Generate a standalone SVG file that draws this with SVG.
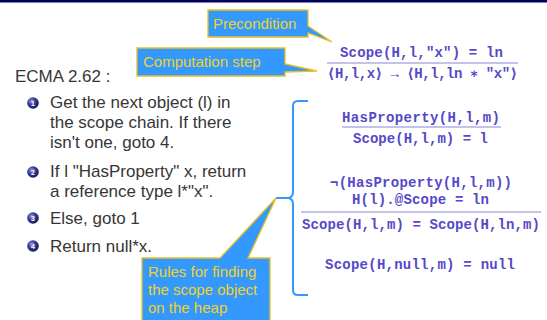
<svg xmlns="http://www.w3.org/2000/svg" width="547" height="320" viewBox="0 0 547 320">
<defs>
<radialGradient id="ball" cx="0.38" cy="0.35" r="0.7">
<stop offset="0" stop-color="#a0a0e0"/>
<stop offset="0.45" stop-color="#3a3a9a"/>
<stop offset="1" stop-color="#141450"/>
</radialGradient>
<style>
.body{font-family:"Liberation Sans","DejaVu Sans",sans-serif;font-size:17px;fill:#363636}
.num{font-family:"Liberation Sans",sans-serif;font-size:7px;fill:#ffffff;text-anchor:middle;font-weight:bold}
.math{font-family:"Liberation Mono","DejaVu Sans Mono",monospace;font-size:14px;font-weight:bold;fill:#5549c8;text-anchor:middle}
.frac{stroke:#8a86dc;stroke-width:1.2}
.call{fill:#3399ff;stroke:#e8c020;stroke-width:1.3}
.ctext{font-family:"Liberation Sans","DejaVu Sans",sans-serif;font-size:15px;fill:#f2d21a}
.brace{fill:none;stroke:#3399ff;stroke-width:2}
</style>
</defs>
<rect x="0" y="0" width="547" height="320" fill="#ffffff"/>
<rect x="0" y="0" width="547" height="2.5" fill="#00005e"/>

<g id="title">
<text class="body" x="15" y="82">ECMA 2.62 :</text>
</g>

<g id="step1">
<circle cx="33" cy="103" r="5.8" fill="url(#ball)"/>
<text class="num" x="33" y="105.5">1</text>
<text class="body" x="50" y="108">Get the next object (l) in</text>
<text class="body" x="50" y="128">the scope chain. If there</text>
<text class="body" x="50" y="148">isn't one, goto 4.</text>
</g>
<g id="step2">
<circle cx="33" cy="172" r="5.8" fill="url(#ball)"/>
<text class="num" x="33" y="174.5">2</text>
<text class="body" x="50" y="177">If l "HasProperty" x, return</text>
<text class="body" x="50" y="197">a reference type l*"x".</text>
</g>
<g id="step3">
<circle cx="33" cy="218" r="5.8" fill="url(#ball)"/>
<text class="num" x="33" y="220.5">3</text>
<text class="body" x="50" y="224">Else, goto 1</text>
</g>
<g id="step4">
<circle cx="33" cy="246" r="5.8" fill="url(#ball)"/>
<text class="num" x="33" y="248.5">4</text>
<text class="body" x="50" y="252">Return null*x.</text>
</g>

<g id="computation-rule">
<text class="math" x="421.5" y="57" textLength="163" lengthAdjust="spacing">Scope(H,l,"x") = ln</text>
<line class="frac" x1="327" y1="63" x2="518" y2="63"/>
<text class="math" x="422.5" y="78" textLength="191" lengthAdjust="spacing">⟨H,l,x⟩ → ⟨H,l,ln ∗ "x"⟩</text>
</g>

<g id="scope-rule-1">
<text class="math" x="421" y="122" textLength="158" lengthAdjust="spacing">HasProperty(H,l,m)</text>
<line class="frac" x1="342" y1="127" x2="501" y2="127"/>
<text class="math" x="420.5" y="143" textLength="135" lengthAdjust="spacing">Scope(H,l,m) = l</text>
</g>

<g id="scope-rule-2">
<text class="math" x="421" y="187" textLength="182" lengthAdjust="spacing">¬(HasProperty(H,l,m))</text>
<text class="math" x="420.5" y="204" textLength="137" lengthAdjust="spacing">H(l).@Scope = ln</text>
<line class="frac" x1="301" y1="212" x2="541" y2="212"/>
<text class="math" x="421" y="229" textLength="238" lengthAdjust="spacing">Scope(H,l,m) = Scope(H,ln,m)</text>
</g>

<g id="scope-rule-3">
<text class="math" x="420" y="269" textLength="190" lengthAdjust="spacing">Scope(H,null,m) = null</text>
</g>

<g id="connectors">
<path class="brace" d="M308,101 H298 Q293,101 293,106 V192 Q293,198 287,198 H276 M287,198 Q293,198 293,204 V290 Q293,295 298,295 H308"/>
</g>

<g id="callout-precondition">
<path class="call" d="M208,10 H308 V26 L332,42 L308,33 V37 H208 Z"/>
<text class="ctext" x="213" y="28.5">Precondition</text>
</g>

<g id="callout-computation">
<path class="call" d="M137,48 H285 V64 L317,71 L285,72 V76 H137 Z"/>
<text class="ctext" x="143" y="67">Computation step</text>
</g>

<g id="callout-rules">
<path class="call" d="M142,258 H220 L276,198 L248,258 H270 V322 H142 Z"/>
<text class="ctext" x="148" y="277">Rules for finding</text>
<text class="ctext" x="148" y="295">the scope object</text>
<text class="ctext" x="148" y="313">on the heap</text>
</g>
</svg>
